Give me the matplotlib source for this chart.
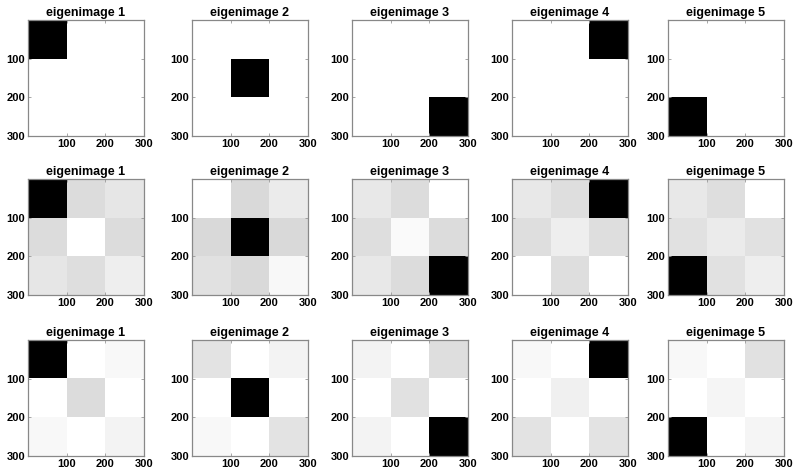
import numpy as np
import matplotlib
matplotlib.use("Agg")
import matplotlib.pyplot as plt

plt.rcParams['font.family'] = ['Liberation Sans', 'DejaVu Sans']

titles = ["eigenimage 1", "eigenimage 2", "eigenimage 3", "eigenimage 4", "eigenimage 5"]
ticks = [100, 200, 300]
tick_labels = ["100", "200", "300"]

# gray levels (0 = black, 1 = white) for each 3x3 block image
row1 = [
    [[0, 1, 1], [1, 1, 1], [1, 1, 1]],
    [[1, 1, 1], [1, 0, 1], [1, 1, 1]],
    [[1, 1, 1], [1, 1, 1], [1, 1, 0]],
    [[1, 1, 0], [1, 1, 1], [1, 1, 1]],
    [[1, 1, 1], [1, 1, 1], [0, 1, 1]],
]
row2 = [
    [[0.00, 0.86, 0.90], [0.86, 1.00, 0.86], [0.90, 0.87, 0.93]],
    [[1.00, 0.85, 0.92], [0.85, 0.00, 0.85], [0.88, 0.85, 0.97]],
    [[0.91, 0.86, 1.00], [0.87, 0.98, 0.86], [0.91, 0.86, 0.00]],
    [[0.91, 0.87, 0.00], [0.87, 0.93, 0.87], [1.00, 0.87, 1.00]],
    [[0.91, 0.87, 1.00], [0.88, 0.92, 0.88], [0.00, 0.88, 0.93]],
]
row3 = [
    [[0.00, 1.00, 0.97], [1.00, 0.86, 1.00], [0.97, 1.00, 0.95]],
    [[0.89, 1.00, 0.95], [1.00, 0.00, 1.00], [0.97, 1.00, 0.89]],
    [[0.95, 1.00, 0.87], [1.00, 0.88, 1.00], [0.95, 1.00, 0.00]],
    [[0.97, 1.00, 0.00], [1.00, 0.94, 1.00], [0.89, 1.00, 0.89]],
    [[0.97, 1.00, 0.88], [1.00, 0.96, 1.00], [0.00, 1.00, 0.96]],
]
rows = [row1, row2, row3]

W, H = 800, 474
fig = plt.figure(figsize=(W / 100, H / 100), dpi=100)

lefts = [28, 192, 352, 512, 668]
tops = [20, 179, 340]
size = 116

for r, row in enumerate(rows):
    for c, img in enumerate(row):
        ax = fig.add_axes([lefts[c] / W, 1 - (tops[r] + size) / H, size / W, size / H])
        ax.imshow(np.array(img), cmap='gray', vmin=0, vmax=1, extent=[0, 300, 300, 0],
                  interpolation='nearest', aspect='auto')
        ax.set_xlim(0, 300)
        ax.set_ylim(300, 0)
        ax.set_xticks(ticks)
        ax.set_yticks(ticks)
        ax.set_xticklabels(tick_labels, fontsize=8, fontweight='bold')
        ax.set_yticklabels(tick_labels, fontsize=8, fontweight='bold')
        ax.tick_params(direction='in', length=2, width=0.6, color='#999999',
                       top=True, right=True, pad=2)
        for s in ax.spines.values():
            s.set_color('#888888')
            s.set_linewidth(0.9)
        ax.set_title(titles[c], fontsize=9, fontweight='bold', pad=3)

fig.savefig("out.png", dpi=100)
